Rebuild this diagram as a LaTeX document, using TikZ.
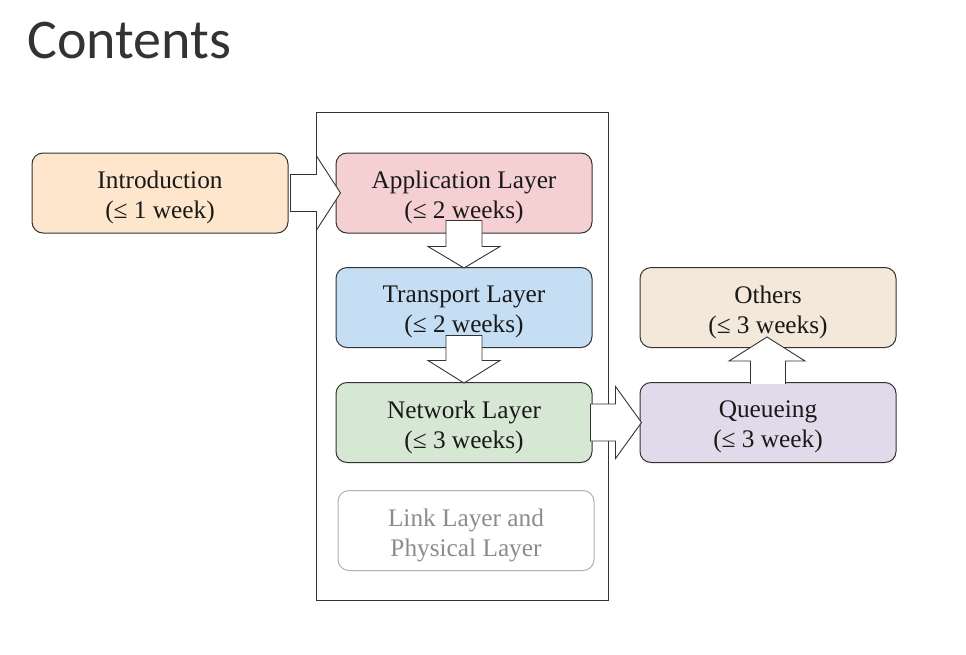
\documentclass[tikz,border=0pt]{standalone}
\usepackage{fontspec}
\setmainfont{Liberation Serif}
\newfontfamily\titlefont{Carlito}
\usetikzlibrary{calc}
\definecolor{cintro}{HTML}{FDE6CC}
\definecolor{capp}{HTML}{F5D0D3}
\definecolor{ctrans}{HTML}{C6DEF3}
\definecolor{cnet}{HTML}{D6E8D3}
\definecolor{cother}{HTML}{F3E8DA}
\definecolor{cqueue}{HTML}{E1DAEA}
\definecolor{edge}{HTML}{333333}
\begin{document}
\begin{tikzpicture}[x=1pt,y=-1pt,
  box/.style={draw=edge, line width=1pt, rounded corners=11pt, minimum width=256pt, minimum height=80pt,
    inner sep=0pt},
  boxtext/.style={align=center, inner sep=0pt, yshift=-4.5pt, font=\fontsize{25.3}{30}\selectfont, text=black!90},
  barrow/.style={draw=edge, line width=0.9pt, fill=white, line join=miter}]
\useasboundingbox[fill=white] (0,0) rectangle (966,654);
\node[anchor=base west, font=\titlefont\fontsize{56}{60}\selectfont, text=black!80] (title) at (24,58) {Contents};
\draw[draw=edge, line width=0.9pt] (316,112) rectangle (608,600);
\node[box, fill=cintro, label={[boxtext]center:{Introduction\\(≤ 1 week)}}] (intro) at (160,193) {};
\node[box, fill=capp, label={[boxtext]center:{Application Layer\\(≤ 2 weeks)}}] (app) at (464,193) {};
\node[box, fill=ctrans, label={[boxtext]center:{Transport Layer\\(≤ 2 weeks)}}] (trans) at (464,307.5) {};
\node[box, fill=cnet, label={[boxtext]center:{Network Layer\\(≤ 3 weeks)}}] (net) at (464,422.5) {};
\node[box, draw=black!30, fill=white, label={[boxtext, text=black!45]center:{Link Layer and\\Physical Layer}}] (link) at (466,530.5) {};
\node[box, fill=cother, label={[boxtext]center:{Others\\(≤ 3 weeks)}}] (others) at (768,307.5) {};
\node[box, fill=cqueue, label={[boxtext]center:{Queueing\\(≤ 3 week)}}] (queue) at (768,422.5) {};
% intro -> app
\draw[barrow] ($(intro.east)+(2,-18.5)$) -- ($(intro.east)+(28,-18.5)$) -- ($(intro.east)+(28,-37)$)
  -- ($(app.west)+(5,0)$) -- ($(intro.east)+(28,37)$) -- ($(intro.east)+(28,18.5)$) -- ($(intro.east)+(2,18.5)$) -- cycle;
% app -> trans
\draw[barrow] ($(app.south)+(-18,-13)$) -- ($(app.south)+(-18,13)$) -- ($(app.south)+(-36,13)$)
  -- ($(trans.north)+(0,1)$) -- ($(app.south)+(36,13)$) -- ($(app.south)+(18,13)$) -- ($(app.south)+(18,-13)$) -- cycle;
% trans -> net
\draw[barrow] ($(trans.south)+(-18,-12.5)$) -- ($(trans.south)+(-18,12.5)$) -- ($(trans.south)+(-36,12.5)$)
  -- ($(net.north)+(0,1)$) -- ($(trans.south)+(36,12.5)$) -- ($(trans.south)+(18,12.5)$) -- ($(trans.south)+(18,-12.5)$) -- cycle;
% net -> queue
\draw[barrow] ($(net.east)+(-2,-18.5)$) -- ($(net.east)+(23,-18.5)$) -- ($(net.east)+(23,-36)$)
  -- ($(queue.west)+(2,0)$) -- ($(net.east)+(23,36)$) -- ($(net.east)+(23,18.5)$) -- ($(net.east)+(-2,18.5)$) -- cycle;
% queue -> others
\draw[barrow] ($(queue.north)+(-17.5,2)$) -- ($(queue.north)+(-17.5,-21)$) -- ($(queue.north)+(-39,-21)$)
  -- ($(others.south)+(-1,-11)$) -- ($(queue.north)+(37,-21)$) -- ($(queue.north)+(17.5,-21)$) -- ($(queue.north)+(17.5,2)$);
\end{tikzpicture}
\end{document}
